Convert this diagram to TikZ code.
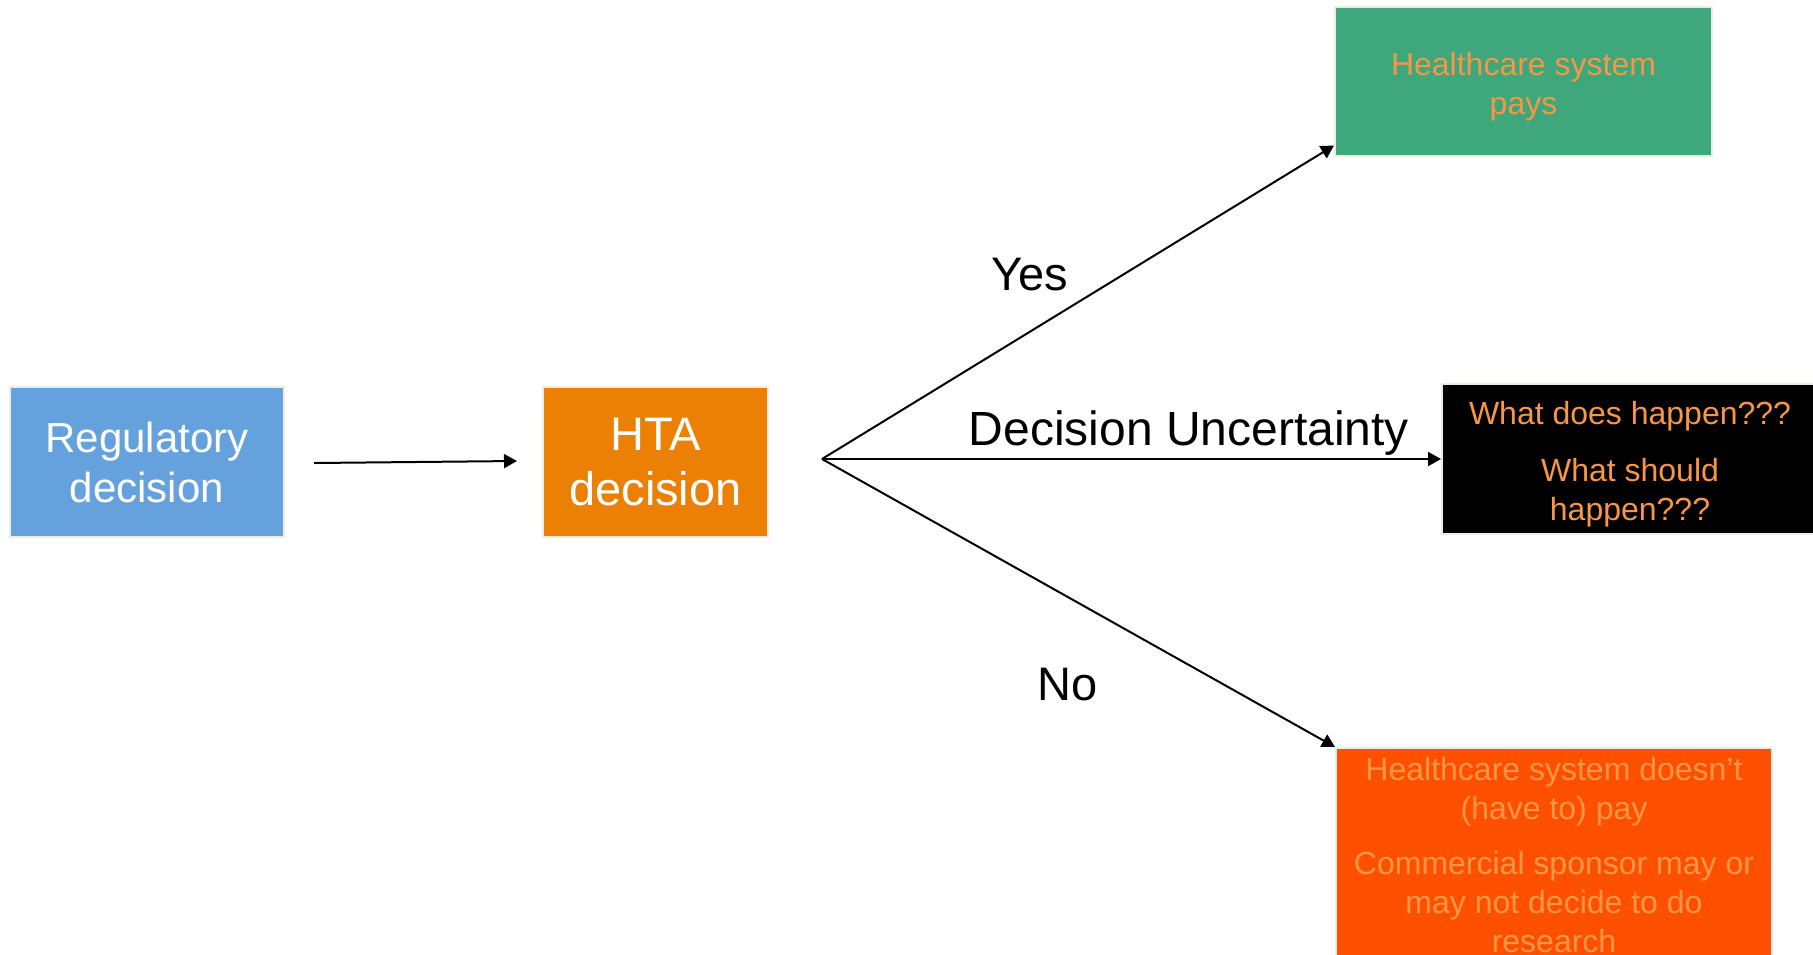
\documentclass[tikz,border=0pt]{standalone}
\usepackage{fontspec}
\setmainfont{Liberation Sans}
\usetikzlibrary{arrows.meta}
\definecolor{regblue}{RGB}{101,161,221}
\definecolor{htaorange}{RGB}{236,128,4}
\definecolor{paygreen}{RGB}{62,167,123}
\definecolor{nopayred}{RGB}{255,80,0}
\definecolor{txtorange}{RGB}{247,150,70}
\definecolor{boxedge}{RGB}{238,236,225}
\begin{document}
\begin{tikzpicture}[x=0.5pt,y=-0.5pt,
    box/.style={draw=boxedge,line width=1pt,inner sep=0pt,align=center},
    arr/.style={line width=1pt,-{Triangle[length=6.5pt,width=7pt]}},
    lbl/.style={anchor=base,font=\fontsize{23.5}{28}\selectfont}]
    \useasboundingbox (0,0) rectangle (1813,954);
    \node[box,fill=regblue,text=white,minimum width=137pt,minimum height=75pt,font=\fontsize{21}{25}\selectfont] (reg) at (147,462) {Regulatory\\decision};
    \node[box,fill=htaorange,text=white,minimum width=112.5pt,minimum height=75pt,font=\fontsize{23.5}{27.5}\selectfont] (hta) at (655.5,462) {HTA\\decision};
    \node[box,fill=paygreen,text=txtorange,minimum width=188.5pt,minimum height=74.5pt,font=\fontsize{16}{19.5}\selectfont] (pays) at (1523.5,81) {\rule{0pt}{17.5pt}Healthcare system\\pays};
    \node[box,fill=black,text=txtorange,minimum width=188pt,minimum height=75pt,font=\fontsize{16}{19.5}\selectfont] (what) at (1630,459) {\rule{0pt}{16.5pt}What does happen???\\[9pt]What should\\happen???};
    \node[box,fill=nopayred,text=txtorange,anchor=north,minimum width=218pt,inner ysep=4.5pt,font=\fontsize{16}{19.5}\selectfont] (nopay) at (1554,747) {Healthcare system doesn’t\\(have to) pay\\[8pt]Commercial sponsor may or\\may not decide to do\\research};
    \coordinate (split) at (822,459);
    \draw[arr] ([xshift=14.5pt,yshift=-0.5pt]reg.east) -- ([xshift=-12.5pt,yshift=0.5pt]hta.west);
    \draw[arr] (split) -- ([yshift=5.5pt]pays.south west);
    \draw[arr] (split) -- (what.west);
    \draw[arr] (split) -- (nopay.north west);
    \node[lbl] (yes) at (1030,290) {Yes};
    \node[lbl,font=\fontsize{24}{28}\selectfont] (unc) at (1189,445) {Decision Uncertainty};
    \node[lbl] (no) at (1068,700) {No};
\end{tikzpicture}
\end{document}
